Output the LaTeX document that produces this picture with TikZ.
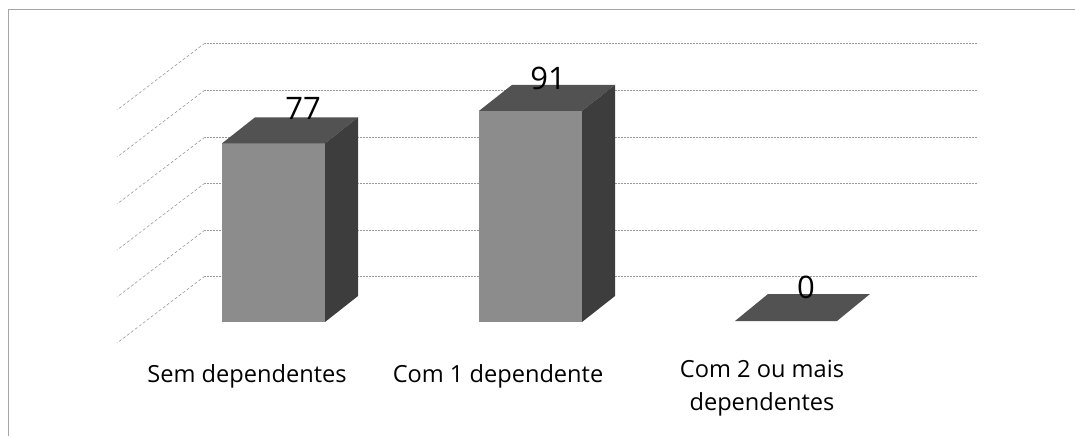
\documentclass[tikz,border=0pt]{standalone}
\usepackage{fontspec}
\setmainfont{Open Sans}
\tikzset{
  frameline/.style={draw=black!35, line width=0.6pt},
  gridline/.style={draw=black!40, line width=0.5pt, densely dotted},
  floorline/.style={draw=black!45, line width=0.5pt, dash pattern=on 3pt off 2pt},
  frontface/.style={fill=black!45},
  topface/.style={fill=black!68},
  sideface/.style={fill=black!76},
  vallabel/.style={font=\fontsize{31}{31}\selectfont, inner sep=0pt},
  catlabel/.style={font=\fontsize{23.6}{33}\selectfont, inner sep=0pt, align=center}
}
\begin{document}
\begin{tikzpicture}[x=1pt,y=1pt,yscale=-1]
\useasboundingbox (0,0) rectangle (1075,436);
% frame
\draw[frameline] (8,436) -- (8,9) -- (1075,9);
% back wall and side wall
\foreach \gy in {43,90,137,183,230,276} {
  \draw[gridline] (205,\gy) -- (977,\gy);
  \draw[floorline] (205,\gy) -- (117,\gy+67);
}
% bars: left edge / value
\foreach \bx/\bv in {222/77,479/91} {
  \pgfmathsetmacro{\bh}{2.32*\bv}
  \fill[frontface] (\bx,322) rectangle (\bx+103,322-\bh);
  \fill[topface] (\bx,322-\bh) -- (\bx+103,322-\bh) -- (\bx+136,296-\bh) -- (\bx+33,296-\bh) -- cycle;
  \fill[sideface] (\bx+103,322) -- (\bx+103,322-\bh) -- (\bx+136,296-\bh) -- (\bx+136,296) -- cycle;
}
\fill[topface] (735,321) -- (837,321) -- (870,294) -- (768,294) -- cycle;
% values
\node[vallabel] (v77) at (303,108) {77};
\node[vallabel] (v91) at (548,78) {91};
\node[vallabel] (v0) at (806,287) {0};
% categories
\node[catlabel] (semdep) at (247,376) {Sem dependentes};
\node[catlabel] (com1) at (498,376) {Com 1 dependente};
\node[catlabel, anchor=north] (com2) at (762,360) {Com 2 ou mais\\dependentes};
\end{tikzpicture}
\end{document}
